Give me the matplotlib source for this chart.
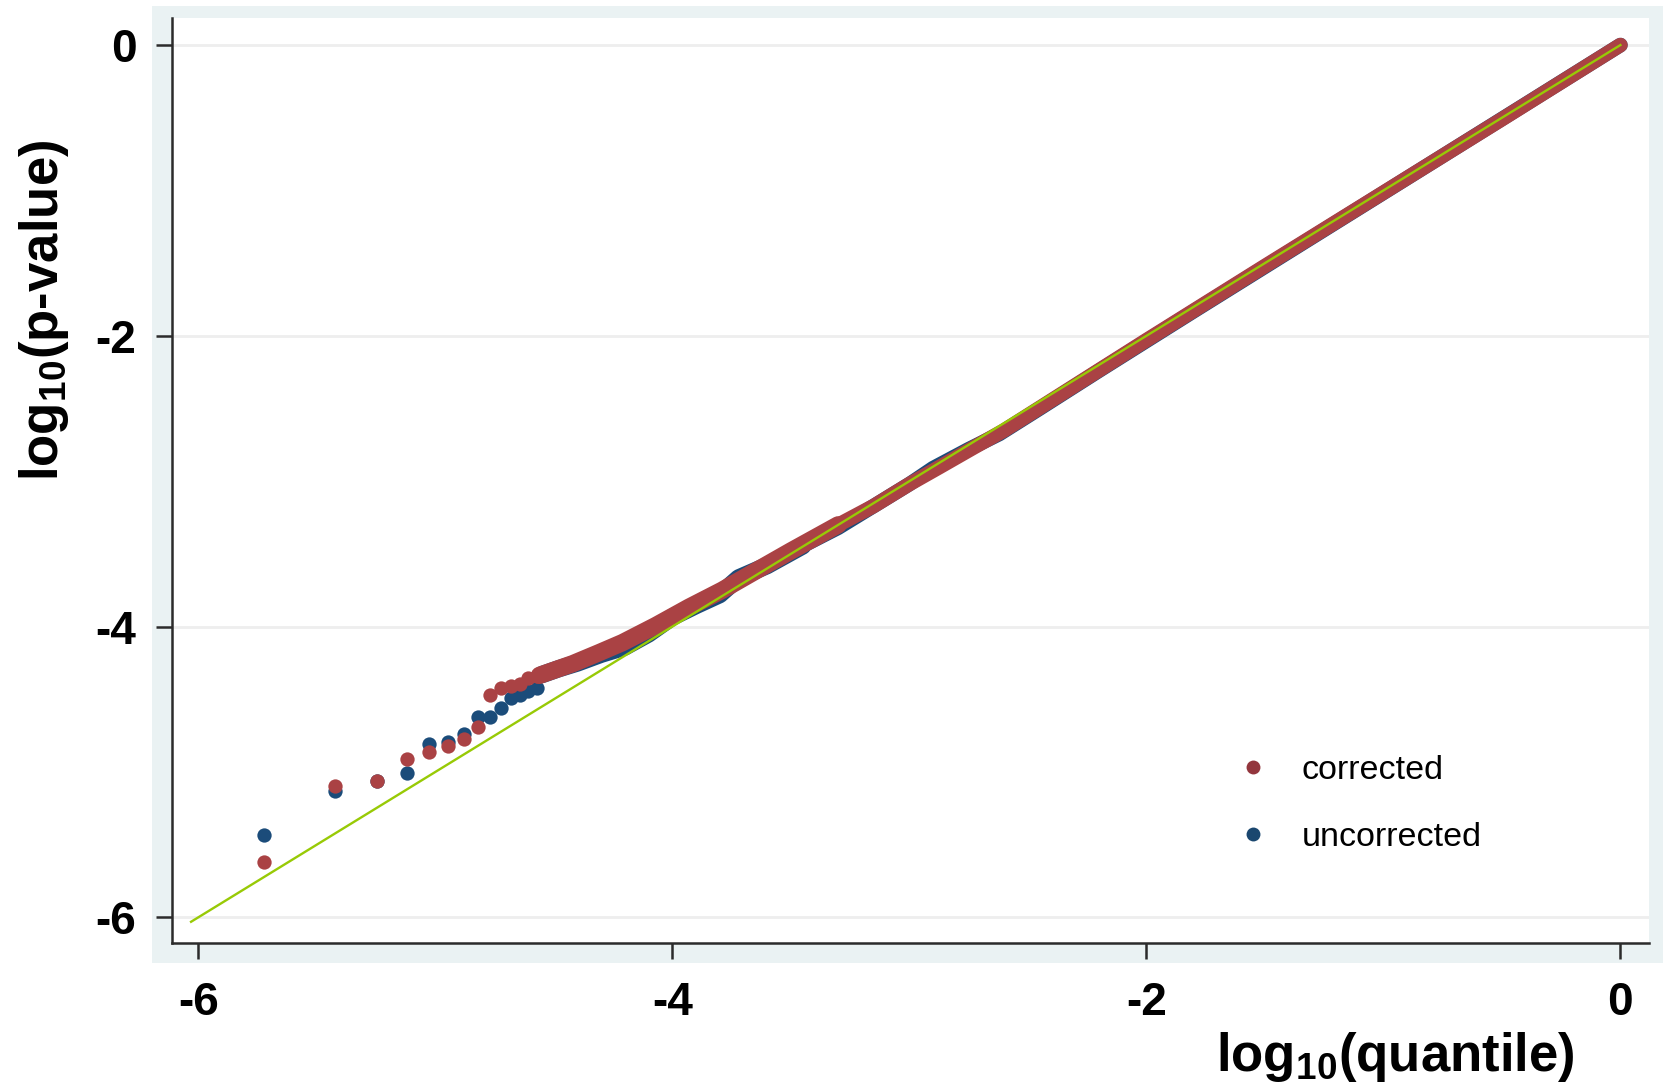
import matplotlib
matplotlib.use("Agg")
import matplotlib.pyplot as plt
from matplotlib.patches import Rectangle
from matplotlib.lines import Line2D

plt.rcParams['font.family'] = ['Liberation Sans', 'DejaVu Sans']
plt.rcParams['axes.unicode_minus'] = False
plt.rcParams['mathtext.fontset'] = 'custom'
plt.rcParams['mathtext.rm'] = 'Liberation Sans:bold'

# tail points (sparse, individually visible)
tail_x = [-5.722, -5.423, -5.247, -5.118, -5.025, -4.944, -4.878,
          -4.819, -4.769, -4.724, -4.682, -4.643, -4.608, -4.572]
corr_tail_y = [-5.621, -5.094, -5.060, -4.913, -4.865, -4.819, -4.773,
               -4.693, -4.470, -4.420, -4.410, -4.395, -4.356, -4.340]
unc_tail_y = [-5.433, -5.131, -5.065, -5.009, -4.810, -4.791, -4.741,
              -4.620, -4.624, -4.560, -4.491, -4.470, -4.444, -4.420]

# dense part of the QQ curve, traced along its centre
corr_band_x = [-4.56, -4.42, -4.31, -4.21, -4.07, -3.93, -3.79, -3.64, -3.50,
               -3.30, -3.15, -3.00, -2.87, -2.72, -2.60, -2.45, -2.30, -2.00,
               -1.50, -1.00, -0.50, 0.00]
corr_band_y = [-4.335, -4.255, -4.180, -4.110, -3.993, -3.867, -3.750, -3.610,
               -3.480, -3.300, -3.170, -3.020, -2.900, -2.760, -2.650, -2.495,
               -2.340, -2.030, -1.520, -1.015, -0.510, 0.000]
unc_band_x = [-4.55, -4.48, -4.40, -4.30, -4.20, -4.10, -4.00, -3.90, -3.80,
              -3.72, -3.60, -3.45, -3.30, -3.15, -3.00, -2.90, -2.75, -2.62,
              -2.45, -2.20, -1.80, -1.20, -0.60, 0.00]
unc_band_y = [-4.330, -4.290, -4.250, -4.190, -4.140, -4.050, -3.935, -3.855,
              -3.780, -3.665, -3.580, -3.445, -3.320, -3.170, -3.020, -2.910,
              -2.780, -2.675, -2.500, -2.240, -1.830, -1.220, -0.610, 0.000]

ref_x = [-6.03, 0.0]
ref_y = [-6.03, 0.0]

x_ticks = [-6, -4, -2, 0]
y_ticks = [-6, -4, -2, 0]

red = '#AA4244'
blue = '#1B4C7A'
green = '#98CA06'

fig = plt.figure(figsize=(16.63, 10.85), dpi=100)
fig.patches.append(Rectangle((0.0914, 0.1124), 0.9086, 0.882, transform=fig.transFigure,
                             facecolor='#EAF2F3', edgecolor='none', zorder=-10))
ax = fig.add_axes([0.1032, 0.1306, 0.8883, 0.8528])
ax.set_zorder(1)
ax.set_facecolor('white')

ax.set_xlim(-6.112, 0.120)
ax.set_ylim(-6.178, 0.186)

for s in ['top', 'right']:
    ax.spines[s].set_visible(False)
for s in ['left', 'bottom']:
    ax.spines[s].set_linewidth(1.8)
    ax.spines[s].set_color('#2b2b2b')

ax.set_xticks(x_ticks)
ax.set_yticks(y_ticks)
ax.tick_params(axis='both', length=11.3, width=1.8, color='#2b2b2b', labelsize=33)
ax.tick_params(axis='y', pad=14)
ax.tick_params(axis='x', pad=16)
for lab in ax.get_xticklabels() + ax.get_yticklabels():
    lab.set_fontweight('bold')

ax.yaxis.grid(True, color='#EEEEEE', linewidth=2)
ax.set_axisbelow(True)

band_kw = dict(solid_capstyle='round', solid_joinstyle='round')

# uncorrected below, corrected on top
ax.plot(unc_band_x[:12], unc_band_y[:12], color=blue, lw=12.5, zorder=2, **band_kw)
ax.plot(unc_band_x[11:], unc_band_y[11:], color=blue, lw=10.5, zorder=2, **band_kw)
ax.plot(tail_x, unc_tail_y, 'o', color=blue, markersize=10.3, markeredgewidth=0, zorder=2)

ax.plot(corr_band_x[:10], corr_band_y[:10], color=red, lw=12.5, zorder=3, **band_kw)
ax.plot(corr_band_x[9:], corr_band_y[9:], color=red, lw=10.5, zorder=3, **band_kw)
ax.plot(tail_x, corr_tail_y, 'o', color=red, markersize=10.3, markeredgewidth=0, zorder=3)

ax.plot(ref_x, ref_y, color=green, lw=1.7, zorder=4)

handles = [Line2D([], [], ls='none', marker='o', color='#93363D', markersize=10, markeredgewidth=0),
           Line2D([], [], ls='none', marker='o', color='#1A476F', markersize=10, markeredgewidth=0)]
ax.legend(handles, ['corrected', 'uncorrected'], loc='center left',
          bbox_to_anchor=(0.7430, 0.2588), bbox_transform=fig.transFigure,
          frameon=False, fontsize=24.5, handlelength=1.0, handletextpad=0.94,
          labelspacing=1.07, borderpad=0, borderaxespad=0)

fig.text(0.839, 0.0132, r'log$_{\mathrm{10}}$(quantile)', fontsize=38,
         fontweight='bold', ha='center', va='baseline')
fig.text(0.0265, 0.7143, r'log$_{\mathrm{10}}$(p-value)', fontsize=38,
         fontweight='bold', ha='center', va='center', rotation=90)

fig.savefig('out.png', dpi=100)
